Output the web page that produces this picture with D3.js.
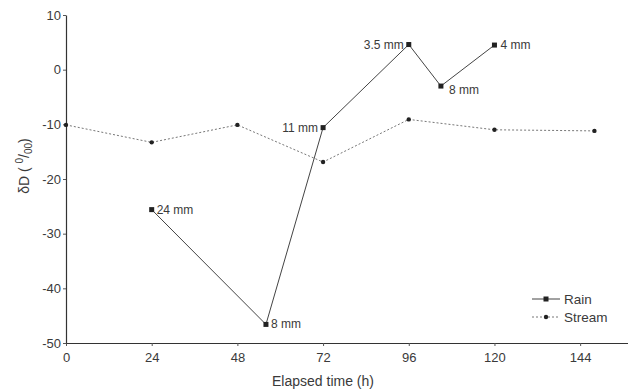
<!DOCTYPE html>
<html>
<head>
<meta charset="utf-8">
<script src="https://cdn.jsdelivr.net/npm/d3@7"></script>
<style>
  body { margin: 0; background: #fff; }
  text { font-family: "Liberation Sans", Arial, sans-serif; fill: #3a3a3a; }
</style>
</head>
<body>
<div id="chart"></div>
<script>
var width = 628, height = 391;

// rain samples: time (h), dD, rainfall label
var rainTime = [24, 56, 72, 96, 105, 120];
var rainValue = [-25.6, -46.6, -10.6, 4.6, -3.0, 4.5];
var rainLabel = ["24 mm", "8 mm", "11 mm", "3.5 mm", "8 mm", "4 mm"];

// stream samples
var streamTime = [0, 24, 48, 72, 96, 120, 148];
var streamValue = [-10.1, -13.3, -10.1, -16.9, -9.1, -11.0, -11.2];

var xTicks = [0, 24, 48, 72, 96, 120, 144];
var yTicks = [10, 0, -10, -20, -30, -40, -50];

var x = d3.scaleLinear().domain([0, 157.4]).range([66, 628]);
var y = d3.scaleLinear().domain([-50, 10]).range([343, 15]);

var svg = d3.select("#chart").append("svg")
  .attr("width", width)
  .attr("height", height);

// axes (plain hyphen for negatives, like the original)
var fmt = function(d) { return String(d); };
var xAxis = svg.append("g")
  .attr("transform", "translate(0," + y(-50) + ")")
  .call(d3.axisBottom(x).tickValues(xTicks).tickFormat(fmt).tickSize(3).tickSizeOuter(0));
var yAxis = svg.append("g")
  .attr("transform", "translate(" + x(0) + ",0)")
  .call(d3.axisLeft(y).tickValues(yTicks).tickFormat(fmt).tickSize(3).tickSizeOuter(0));

[xAxis, yAxis].forEach(function(g) {
  g.select(".domain").attr("stroke", "#333").attr("stroke-width", 1.2);
  g.selectAll(".tick line").attr("stroke", "#555");
  g.selectAll(".tick text")
    .style("font-size", "13px")
    .attr("fill", "#3a3a3a");
});
xAxis.selectAll(".tick text").attr("dy", "1.0em");
yAxis.selectAll(".tick text").attr("x", -5);

// axis titles
svg.append("text")
  .attr("x", 323).attr("y", 386)
  .attr("text-anchor", "middle")
  .style("font-size", "14px")
  .text("Elapsed time (h)");

var yl = svg.append("text")
  .attr("transform", "translate(29,166) rotate(-90)")
  .attr("text-anchor", "middle")
  .style("font-size", "14px");
yl.append("tspan").text("\u03b4D ( ");
yl.append("tspan").attr("dy", -6).style("font-size", "10px").text("0");
yl.append("tspan").attr("dy", 6).text("/");
yl.append("tspan").attr("dy", 3).style("font-size", "10px").text("00");
yl.append("tspan").attr("dy", -3).text(")");

var rain = rainTime.map(function(t, i) { return { t: t, v: rainValue[i], label: rainLabel[i] }; });
var stream = streamTime.map(function(t, i) { return { t: t, v: streamValue[i] }; });

var line = d3.line()
  .x(function(d) { return x(d.t); })
  .y(function(d) { return y(d.v); });

// stream: dotted line with small dots
svg.append("path")
  .datum(stream)
  .attr("d", line)
  .attr("fill", "none")
  .attr("stroke", "#777")
  .attr("stroke-width", 1)
  .attr("stroke-dasharray", "2,2");

svg.selectAll("circle.stream")
  .data(stream)
  .enter().append("circle")
  .attr("class", "stream")
  .attr("cx", function(d) { return x(d.t); })
  .attr("cy", function(d) { return y(d.v); })
  .attr("r", 2.2)
  .attr("fill", "#222");

// rain: solid line with squares
svg.append("path")
  .datum(rain)
  .attr("d", line)
  .attr("fill", "none")
  .attr("stroke", "#444")
  .attr("stroke-width", 1);

svg.selectAll("rect.rain")
  .data(rain)
  .enter().append("rect")
  .attr("class", "rain")
  .attr("x", function(d) { return x(d.t) - 2.5; })
  .attr("y", function(d) { return y(d.v) - 2.5; })
  .attr("width", 5)
  .attr("height", 5)
  .attr("fill", "#222");

// rainfall amount labels: [dx, dy, anchor]
var labelPos = [[5, 4, "start"], [5, 4, "start"], [-5, 4, "end"], [-5, 4, "end"], [8, 8, "start"], [6, 4, "start"]];
svg.selectAll("text.amt")
  .data(rain)
  .enter().append("text")
  .attr("class", "amt")
  .attr("x", function(d, i) { return x(d.t) + labelPos[i][0]; })
  .attr("y", function(d, i) { return y(d.v) + labelPos[i][1]; })
  .attr("text-anchor", function(d, i) { return labelPos[i][2]; })
  .style("font-size", "12px")
  .text(function(d) { return d.label; });

// legend
var lg = svg.append("g").attr("transform", "translate(532,299)");
lg.append("line").attr("x1", 0).attr("x2", 28).attr("stroke", "#444");
lg.append("rect").attr("x", 11.5).attr("y", -2.5).attr("width", 5).attr("height", 5).attr("fill", "#222");
lg.append("text").attr("x", 32).attr("y", 5).style("font-size", "13.5px").text("Rain");
lg.append("line").attr("x1", 0).attr("x2", 28).attr("y1", 18).attr("y2", 18)
  .attr("stroke", "#777").attr("stroke-dasharray", "2,2");
lg.append("circle").attr("cx", 14).attr("cy", 18).attr("r", 2.2).attr("fill", "#222");
lg.append("text").attr("x", 32).attr("y", 23).style("font-size", "13.5px").text("Stream");
</script>
</body>
</html>
